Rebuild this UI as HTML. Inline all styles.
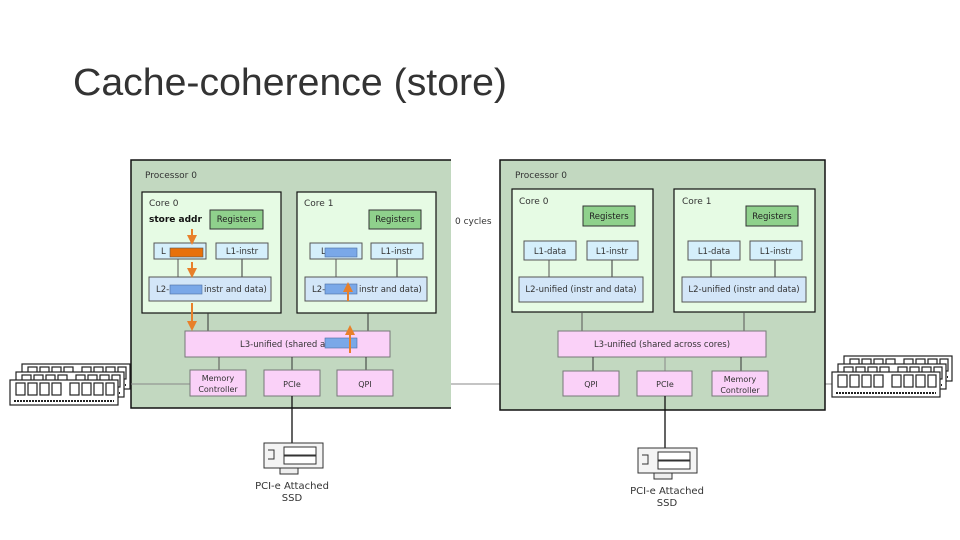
<!DOCTYPE html>
<html><head><style>
body{margin:0;background:#fff;}
svg{display:block;font-family:"DejaVu Sans","Liberation Sans",sans-serif;}
</style></head><body>
<svg width="960" height="540" viewBox="0 0 960 540" xmlns="http://www.w3.org/2000/svg">
<defs>
<marker id="ah" markerWidth="5" markerHeight="5" refX="2.5" refY="2.5" orient="auto"><path d="M0,0 L5,2.5 L0,5 z" fill="#e8802a"/></marker>
<g id="stick">
<rect x="0" y="0" width="108" height="25" fill="#fff" stroke="#222" stroke-width="1.2"/>
<g fill="none" stroke="#222" stroke-width="1.2">
<rect x="6" y="3" width="9" height="12"/><rect x="18" y="3" width="9" height="12"/><rect x="30" y="3" width="9" height="12"/><rect x="42" y="3" width="9" height="12"/>
<rect x="60" y="3" width="9" height="12"/><rect x="72" y="3" width="9" height="12"/><rect x="84" y="3" width="9" height="12"/><rect x="96" y="3" width="8" height="12"/>
</g>
<line x1="4" y1="21" x2="104" y2="21" stroke="#222" stroke-width="2" stroke-dasharray="2,1"/>
</g>
</defs>
<text x="73" y="95" font-family="Liberation Sans,sans-serif" font-size="38" fill="#333" textLength="434" lengthAdjust="spacingAndGlyphs">Cache-coherence (store)</text>

<line x1="115" y1="384" x2="845" y2="384" stroke="#888" stroke-width="1"/>

<rect x="131" y="160" width="320" height="248" fill="#c2d8c0"/>
<path d="M451,160 H131 V408 H451" fill="none" stroke="#111" stroke-width="1.5"/>
<text x="145" y="178" font-size="9" fill="#333">Processor 0</text>
<line x1="190" y1="384" x2="131" y2="384" stroke="#888"/>
<rect x="142" y="192" width="139" height="121" fill="#e6fbe4" stroke="#111" stroke-width="1.2"/>
<text x="149" y="206" font-size="9" fill="#333">Core 0</text>
<text x="149" y="222" font-size="9" font-weight="bold" fill="#111">store addr</text>
<rect x="210" y="210" width="53" height="19" fill="#8fd18c" stroke="#333"/>
<text x="236.5" y="222" font-size="8.5" text-anchor="middle" fill="#222">Registers</text>
<line x1="178" y1="259" x2="178" y2="277" stroke="#555"/><line x1="242" y1="259" x2="242" y2="277" stroke="#333"/>
<rect x="154" y="243" width="52" height="16" fill="#d5effb" stroke="#555"/>
<text x="161" y="254" font-size="8.5" fill="#333">L</text>
<rect x="170" y="248" width="33" height="9" fill="#e8700a" stroke="#555" stroke-width=".6"/>
<rect x="216" y="243" width="52" height="16" fill="#d5effb" stroke="#555"/>
<text x="242" y="254" font-size="8.5" text-anchor="middle" fill="#333">L1-instr</text>
<rect x="149" y="277" width="122" height="24" fill="#d3e6f8" stroke="#555"/>
<text x="156" y="292" font-size="8.5" fill="#333">L2-</text>
<text x="204" y="292" font-size="8.5" fill="#333">instr and data)</text>
<rect x="170" y="285" width="32" height="9" fill="#7aa8e8" stroke="#4a6da0" stroke-width=".6"/>
<rect x="297" y="192" width="139" height="121" fill="#e6fbe4" stroke="#111" stroke-width="1.2"/>
<text x="304" y="206" font-size="9" fill="#333">Core 1</text>
<rect x="369" y="210" width="52" height="19" fill="#8fd18c" stroke="#333"/>
<text x="395" y="222" font-size="8.5" text-anchor="middle" fill="#222">Registers</text>
<line x1="336" y1="259" x2="336" y2="277" stroke="#555"/><line x1="397" y1="259" x2="397" y2="277" stroke="#333"/>
<rect x="310" y="243" width="52" height="16" fill="#d5effb" stroke="#555"/>
<text x="321" y="254" font-size="8.5" fill="#333">L</text>
<rect x="325" y="248" width="32" height="9" fill="#7aa8e8" stroke="#4a6da0" stroke-width=".6"/>
<rect x="371" y="243" width="52" height="16" fill="#d5effb" stroke="#555"/>
<text x="397" y="254" font-size="8.5" text-anchor="middle" fill="#333">L1-instr</text>
<rect x="305" y="277" width="122" height="24" fill="#d3e6f8" stroke="#555"/>
<text x="312" y="292" font-size="8.5" fill="#333">L2-</text>
<text x="359" y="292" font-size="8.5" fill="#333">instr and data)</text>
<rect x="325" y="284" width="32" height="10" fill="#7aa8e8" stroke="#4a6da0" stroke-width=".6"/>
<line x1="208" y1="313" x2="208" y2="331" stroke="#333"/><line x1="368" y1="313" x2="368" y2="331" stroke="#333"/>
<rect x="185" y="331" width="205" height="26" fill="#fad1f8" stroke="#777"/>
<text x="240" y="347" font-size="8.5" fill="#333">L3-unified (shared across</text>
<rect x="325" y="338" width="32" height="10" fill="#7aa8e8" stroke="#4a6da0" stroke-width=".6"/>
<line x1="219" y1="357" x2="219" y2="370" stroke="#555"/><line x1="292" y1="357" x2="292" y2="370" stroke="#333"/><line x1="366" y1="357" x2="366" y2="370" stroke="#333"/>
<rect x="190" y="370" width="56" height="26" fill="#fad1f8" stroke="#777"/>
<text x="218" y="381" font-size="8" text-anchor="middle" fill="#333">Memory</text>
<text x="218" y="392" font-size="8" text-anchor="middle" fill="#333">Controller</text>
<rect x="264" y="370" width="56" height="26" fill="#fad1f8" stroke="#777"/>
<text x="292" y="387" font-size="8" text-anchor="middle" fill="#333">PCIe</text>
<rect x="337" y="370" width="56" height="26" fill="#fad1f8" stroke="#777"/>
<text x="365" y="387" font-size="8" text-anchor="middle" fill="#333">QPI</text>
<g stroke="#e8802a" stroke-width="2" marker-end="url(#ah)">
<line x1="192" y1="229" x2="192" y2="240"/>
<line x1="192" y1="262" x2="192" y2="273"/>
<line x1="192" y1="303" x2="192" y2="326"/>
<line x1="348" y1="301" x2="348" y2="287"/>
<line x1="350" y1="353" x2="350" y2="330"/>
</g>
<text x="455" y="224" font-size="9" fill="#333">0 cycles</text>
<line x1="292" y1="396" x2="292" y2="443" stroke="#111" stroke-width="1.3"/>

<rect x="500" y="160" width="325" height="250" fill="#c2d8c0" stroke="#111" stroke-width="1.5"/>
<text x="515" y="178" font-size="9" fill="#333">Processor 0</text>
<rect x="512" y="189" width="141" height="123" fill="#e6fbe4" stroke="#111" stroke-width="1.2"/>
<text x="519" y="204" font-size="9" fill="#333">Core 0</text>
<rect x="583" y="206" width="52" height="20" fill="#8fd18c" stroke="#333"/>
<text x="609" y="219" font-size="8.5" text-anchor="middle" fill="#222">Registers</text>
<line x1="549" y1="260" x2="549" y2="277" stroke="#555"/><line x1="612" y1="260" x2="612" y2="277" stroke="#333"/>
<rect x="524" y="241" width="52" height="19" fill="#d5effb" stroke="#555"/>
<text x="550" y="254" font-size="8.5" text-anchor="middle" fill="#333">L1-data</text>
<rect x="587" y="241" width="51" height="19" fill="#d5effb" stroke="#555"/>
<text x="612" y="254" font-size="8.5" text-anchor="middle" fill="#333">L1-instr</text>
<rect x="519" y="277" width="124" height="25" fill="#d3e6f8" stroke="#555"/>
<text x="581" y="292" font-size="8.5" text-anchor="middle" fill="#333">L2-unified (instr and data)</text>
<rect x="674" y="189" width="141" height="123" fill="#e6fbe4" stroke="#111" stroke-width="1.2"/>
<text x="682" y="204" font-size="9" fill="#333">Core 1</text>
<rect x="746" y="206" width="52" height="20" fill="#8fd18c" stroke="#333"/>
<text x="772" y="219" font-size="8.5" text-anchor="middle" fill="#222">Registers</text>
<line x1="711" y1="260" x2="711" y2="277" stroke="#333"/><line x1="775" y1="260" x2="775" y2="277" stroke="#333"/>
<rect x="688" y="241" width="52" height="19" fill="#d5effb" stroke="#555"/>
<text x="714" y="254" font-size="8.5" text-anchor="middle" fill="#333">L1-data</text>
<rect x="750" y="241" width="52" height="19" fill="#d5effb" stroke="#555"/>
<text x="776" y="254" font-size="8.5" text-anchor="middle" fill="#333">L1-instr</text>
<rect x="682" y="277" width="124" height="25" fill="#d3e6f8" stroke="#555"/>
<text x="744" y="292" font-size="8.5" text-anchor="middle" fill="#333">L2-unified (instr and data)</text>
<line x1="582" y1="312" x2="582" y2="331" stroke="#555"/><line x1="744" y1="312" x2="744" y2="331" stroke="#555"/>
<rect x="558" y="331" width="208" height="26" fill="#fad1f8" stroke="#777"/>
<text x="662" y="347" font-size="8.5" text-anchor="middle" fill="#333">L3-unified (shared across cores)</text>
<line x1="593" y1="357" x2="593" y2="371" stroke="#333"/><line x1="665" y1="357" x2="665" y2="371" stroke="#888"/><line x1="741" y1="357" x2="741" y2="371" stroke="#333"/>
<rect x="563" y="371" width="56" height="25" fill="#fad1f8" stroke="#777"/>
<text x="591" y="387" font-size="8" text-anchor="middle" fill="#333">QPI</text>
<rect x="637" y="371" width="55" height="25" fill="#fad1f8" stroke="#777"/>
<text x="665" y="387" font-size="8" text-anchor="middle" fill="#333">PCIe</text>
<rect x="712" y="371" width="56" height="25" fill="#fad1f8" stroke="#777"/>
<text x="740" y="382" font-size="8" text-anchor="middle" fill="#333">Memory</text>
<text x="740" y="393" font-size="8" text-anchor="middle" fill="#333">Controller</text>
<line x1="665" y1="396" x2="665" y2="448" stroke="#111" stroke-width="1.3"/>

<g transform="translate(264,443)">
<rect x="0" y="0" width="59" height="25" fill="#f4f4f4" stroke="#333"/>
<path d="M4,7 H10 V16 H4" fill="none" stroke="#333"/>
<rect x="20" y="4" width="32" height="8" fill="#fff" stroke="#333"/>
<rect x="20" y="13" width="32" height="8" fill="#fff" stroke="#333"/>
<rect x="16" y="25" width="18" height="6" fill="#eee" stroke="#333"/>
<text x="28" y="46" font-size="10" text-anchor="middle" fill="#333">PCI-e Attached</text>
<text x="28" y="58" font-size="10" text-anchor="middle" fill="#333">SSD</text>
</g>
<g transform="translate(638,448)">
<rect x="0" y="0" width="59" height="25" fill="#f4f4f4" stroke="#333"/>
<path d="M4,7 H10 V16 H4" fill="none" stroke="#333"/>
<rect x="20" y="4" width="32" height="8" fill="#fff" stroke="#333"/>
<rect x="20" y="13" width="32" height="8" fill="#fff" stroke="#333"/>
<rect x="16" y="25" width="18" height="6" fill="#eee" stroke="#333"/>
<text x="29" y="46" font-size="10" text-anchor="middle" fill="#333">PCI-e Attached</text>
<text x="29" y="58" font-size="10" text-anchor="middle" fill="#333">SSD</text>
</g>

<use href="#stick" x="22" y="364"/>
<use href="#stick" x="16" y="372"/>
<use href="#stick" x="10" y="380"/>
<use href="#stick" x="844" y="356"/>
<use href="#stick" x="838" y="364"/>
<use href="#stick" x="832" y="372"/>
</svg>
</body></html>
